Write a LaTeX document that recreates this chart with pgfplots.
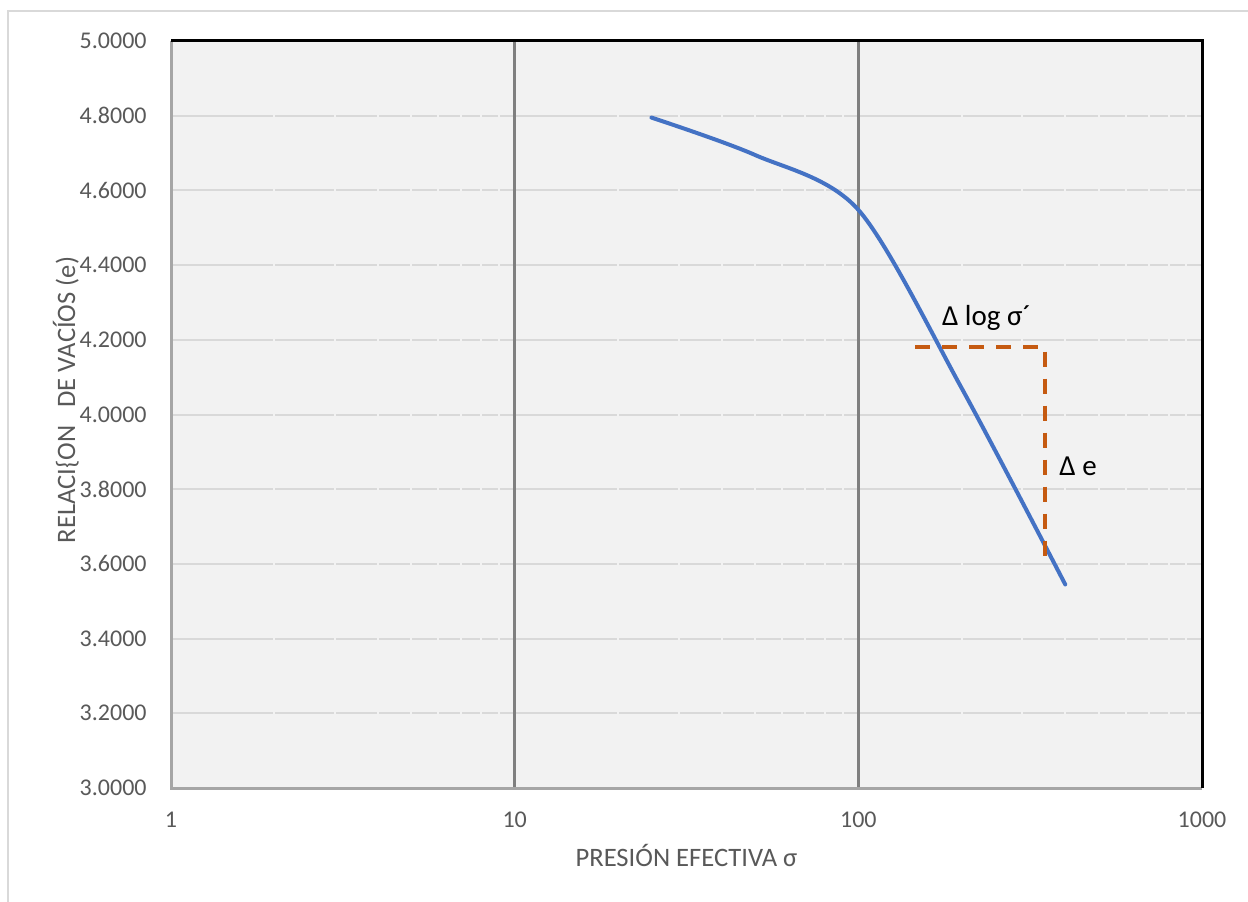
\documentclass[border=0pt]{standalone}
\usepackage{pgfplots}
\pgfplotsset{compat=1.18}
\usepackage{pgfplotstable}
\usepackage{fontspec}
\setmainfont{Carlito}
\definecolor{bgc}{HTML}{F2F2F2}
\definecolor{gridc}{HTML}{D9D9D9}
\definecolor{vgrid}{HTML}{7F7F7F}
\definecolor{txt}{HTML}{595959}
\definecolor{blueline}{HTML}{4472C4}
\definecolor{orangeline}{HTML}{C55A11}
\definecolor{axgray}{HTML}{A6A6A6}

\pgfplotstableread{
x y
25 4.795
50 4.695
100 4.548
200 4.070
400 3.545
}\curvedata

\pgfplotstableread{
x y
146.2 4.182
349.3 4.182
349.3 3.610
}\deltadata

\begin{document}
\begin{tikzpicture}
\useasboundingbox (0,0) rectangle (624pt,450.5pt);
\draw[gridc, line width=1pt] (4pt,-10pt) -- (4pt,445pt) -- (640pt,445pt);
\begin{axis}[
  at={(85.5pt,56.5pt)}, anchor=south west,
  scale only axis, width=515.5pt, height=373.5pt,
  xmode=log, xmin=1, xmax=1000, ymin=3, ymax=5,
  xtick={1,10,100,1000}, xticklabels={1,10,100,1000},
  ytick={3,3.2,3.4,3.6,3.8,4,4.2,4.4,4.6,4.8,5},
  minor xtick={},
  major tick length=0pt, minor tick length=0pt,
  axis background/.style={fill=bgc},
  axis line style={draw=none},
  ymajorgrids,
  y grid style={gridc, line width=1pt},
  tick label style={font=\fontsize{12}{14}\selectfont, text=txt, inner sep=0pt},
  yticklabel style={anchor=east, xshift=-12pt, /pgf/number format/.cd, fixed, fixed zerofill, precision=4, assume math mode=true},
  xticklabel style={anchor=north, yshift=-12pt},
  xlabel={PRESIÓN EFECTIVA σ},
  ylabel={RELACI\{ON\ \ \ DE VACÍOS (e)},
  label style={font=\fontsize{13.3}{16}\selectfont, text=txt, inner sep=0pt},
  xlabel style={at={(axis description cs:0.5,-0.1054)}, anchor=base},
  ylabel style={at={(axis description cs:-0.0931,0.5194)}, anchor=base},
  clip=false,
]
\pgfplotsinvokeforeach{2,3,4,5,6,7,8,9,20,30,40,50,60,70,80,90,200,300,400,500,600,700,800,900}{
  \draw[bgc, line width=1pt] (axis cs:#1,3) -- (axis cs:#1,5);
}
\draw[vgrid, line width=1.25pt] (axis cs:10,3) -- (axis cs:10,5);
\draw[vgrid, line width=1.25pt] (axis cs:100,3) -- (axis cs:100,5);
\addplot[blueline, line width=2pt, smooth, tension=0.5, line cap=round] table[x=x, y=y] {\curvedata};
\addplot[orangeline, line width=2pt, dash pattern=on 7.5pt off 6pt] table[x=x, y=y] {\deltadata};
\node[anchor=base west, inner sep=0pt, font=\fontsize{14.5}{17}\selectfont] at (axis cs:174.8,4.237) {Δ log σ´};
\node[anchor=base west, inner sep=0pt, font=\fontsize{14.5}{17}\selectfont] at (axis cs:383.6,3.838) {Δ e};
\draw[axgray, line width=1.5pt] (rel axis cs:0,1) -- (rel axis cs:0,0) -- (rel axis cs:1,0);
\draw[black, line width=1.5pt] (rel axis cs:0,1) -- (rel axis cs:1,1) -- (rel axis cs:1,0);
\end{axis}
\end{tikzpicture}
\end{document}
